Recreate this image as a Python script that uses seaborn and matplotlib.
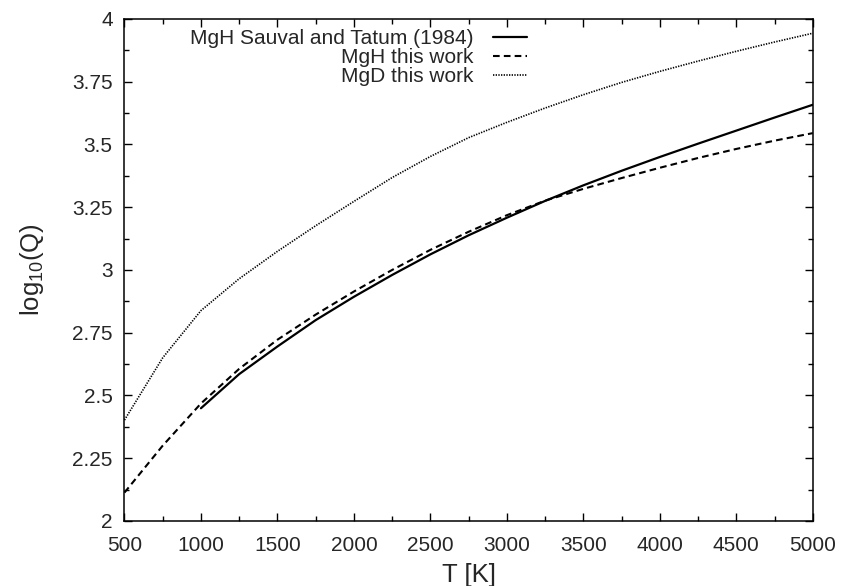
import numpy as np
import pandas as pd
import matplotlib
matplotlib.use("Agg")
import matplotlib.pyplot as plt
import seaborn as sns

# Temperatures [K]
T_this = [500, 750, 1000, 1250, 1500, 1750, 2000, 2250, 2500, 2750,
          3000, 3250, 3500, 3750, 4000, 4250, 4500, 4750, 5000]
T_st = T_this[2:]

# log10(Q)
mgh_sauval = [2.449, 2.585, 2.695, 2.80, 2.893, 2.98, 3.062, 3.138, 3.208,
              3.275, 3.337, 3.395, 3.45, 3.503, 3.555, 3.607, 3.658]
mgh_this = [2.113, 2.30, 2.468, 2.606, 2.722, 2.822, 2.914, 3.0, 3.08,
            3.152, 3.218, 3.276, 3.323, 3.366, 3.407, 3.446, 3.482, 3.515, 3.545]
mgd_this = [2.402, 2.65, 2.838, 2.965, 3.074, 3.176, 3.273, 3.368, 3.452,
            3.527, 3.588, 3.645, 3.698, 3.747, 3.791, 3.832, 3.871, 3.908, 3.943]

labels = ["MgH Sauval and Tatum (1984)", "MgH this work", "MgD this work"]

sns.set_style("ticks")
plt.rcParams['font.family'] = ['Liberation Sans', 'DejaVu Sans']
plt.rcParams['mathtext.fontset'] = 'custom'
plt.rcParams['mathtext.rm'] = 'Liberation Sans'
plt.rcParams['mathtext.it'] = 'Liberation Sans:italic'

fig = plt.figure(figsize=(8.41, 5.86), dpi=100)
ax = fig.add_axes([0.148, 0.111, 0.8184, 0.8567])

sns.lineplot(x=T_st, y=mgh_sauval, ax=ax, color="black", lw=1.6,
             label=labels[0])
sns.lineplot(x=T_this, y=mgh_this, ax=ax, color="black", lw=1.5,
             dashes=(3.2, 2), label=labels[1])
sns.lineplot(x=T_this, y=mgd_this, ax=ax, color="black", lw=1.2,
             dashes=(0.8, 0.8), label=labels[2])

ax.set_xlim(500, 5000)
ax.set_ylim(2, 4)
ax.set_xticks(np.arange(500, 5001, 500))
ax.set_xticks(np.arange(500, 5001, 250), minor=True)
ax.set_yticks(np.arange(2, 4.01, 0.25))
ax.set_yticks(np.arange(2, 4.01, 0.125), minor=True)
ax.set_yticklabels(["2", "2.25", "2.5", "2.75", "3", "3.25", "3.5", "3.75", "4"])
ax.tick_params(which="both", direction="in", top=True, right=True,
               labelsize=15, width=1, color="black")
ax.tick_params(which="major", length=6)
ax.tick_params(which="minor", length=3.5)
ax.tick_params(axis="x", which="major", pad=10.5)
ax.tick_params(axis="y", which="major", pad=8.5)
for s in ax.spines.values():
    s.set_linewidth(1.1)
    s.set_color("black")

ax.set_xlabel("T [K]", fontsize=18.5, labelpad=6)
ax.set_ylabel(r"log$_{10}$(Q)", fontsize=18.5, labelpad=19)

leg = ax.legend(loc="upper right", bbox_to_anchor=(0.585, 0.979),
                frameon=False, markerfirst=False, fontsize=15,
                handlelength=1.65, handletextpad=0.9, labelspacing=0.0,
                borderpad=0, borderaxespad=0)
for col in leg._legend_handle_box.get_children():
    col.align = "right"

plt.savefig("out.png", dpi=100)
